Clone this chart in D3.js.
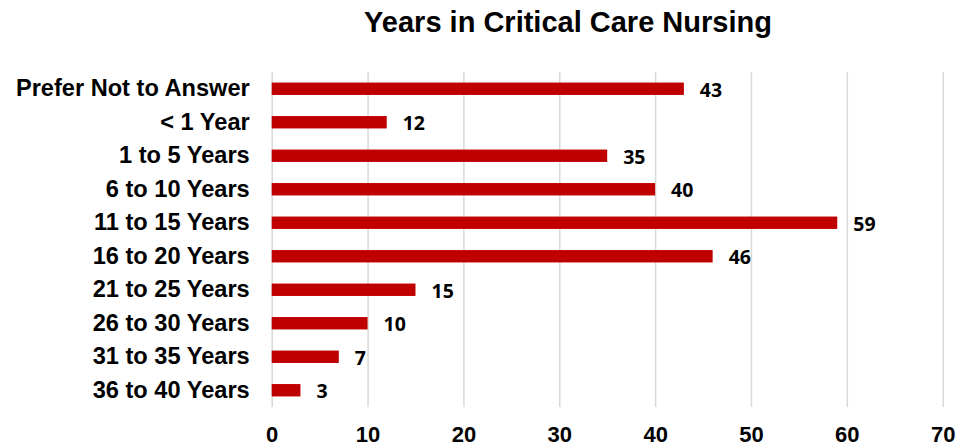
<!DOCTYPE html>
<html>
<head>
<meta charset="utf-8">
<script src="https://cdn.jsdelivr.net/npm/d3@7"></script>
<style>
  body { margin: 0; background: #fff; }
</style>
</head>
<body>
<div id="vis"></div>
<script>
// categories, top to bottom
const CATEGORIES = ["Prefer Not to Answer", "< 1 Year", "1 to 5 Years", "6 to 10 Years",
                    "11 to 15 Years", "16 to 20 Years", "21 to 25 Years", "26 to 30 Years",
                    "31 to 35 Years", "36 to 40 Years"];

// number of respondents per category
const COUNTS = [43, 12, 35, 40, 59, 46, 15, 10, 7, 3];

// x axis ticks
const X_TICKS = [0, 10, 20, 30, 40, 50, 60, 70];

const TITLE = "Years in Critical Care Nursing";

// frame
const FRAME_WIDTH = 957;
const FRAME_HEIGHT = 446;
const MARGINS = {left: 271.7, right: 14.3, top: 72, bottom: 39};
const VIS_WIDTH = FRAME_WIDTH - MARGINS.left - MARGINS.right;
const VIS_HEIGHT = FRAME_HEIGHT - MARGINS.top - MARGINS.bottom;

const data = CATEGORIES.map((c, i) => ({category: c, count: COUNTS[i]}));

const FRAME = d3.select("#vis")
                .append("svg")
                .attr("width", FRAME_WIDTH)
                .attr("height", FRAME_HEIGHT);

const X_SCALE = d3.scaleLinear()
                  .domain([0, 70])
                  .range([0, VIS_WIDTH]);

const Y_SCALE = d3.scaleBand()
                  .domain(CATEGORIES)
                  .range([0, VIS_HEIGHT])
                  .paddingInner(0.63)
                  .paddingOuter(0.315);

const G = FRAME.append("g")
               .attr("transform", "translate(" + MARGINS.left + "," + MARGINS.top + ")");

// gridlines + tick labels
const xAxis = G.append("g")
               .attr("transform", "translate(0," + VIS_HEIGHT + ")")
               .call(d3.axisBottom(X_SCALE).tickValues(X_TICKS).tickSize(-VIS_HEIGHT).tickPadding(19));
xAxis.select(".domain").remove();
xAxis.selectAll("line").attr("stroke", "#d9d9d9").attr("stroke-width", 1.5);
xAxis.selectAll("text")
     .attr("font-family", "Liberation Sans, Arial, sans-serif")
     .attr("font-weight", "bold")
     .attr("font-size", "22px")
     .attr("fill", "#000");

// category labels
const yAxis = G.append("g")
               .call(d3.axisLeft(Y_SCALE).tickSize(0).tickPadding(22));
yAxis.select(".domain").remove();
yAxis.selectAll("text")
     .attr("font-family", "Liberation Sans, Arial, sans-serif")
     .attr("font-weight", "bold")
     .attr("font-size", "23.6px")
     .attr("fill", "#000");

// bars
G.selectAll(".bar")
 .data(data)
 .enter()
 .append("rect")
   .attr("class", "bar")
   .attr("x", X_SCALE(0))
   .attr("y", (d) => Y_SCALE(d.category))
   .attr("width", (d) => X_SCALE(d.count) - X_SCALE(0))
   .attr("height", Y_SCALE.bandwidth())
   .attr("fill", "#c00000");

// value labels
G.selectAll(".value")
 .data(data)
 .enter()
 .append("text")
   .attr("class", "value")
   .attr("x", (d) => X_SCALE(d.count) + 16)
   .attr("y", (d) => Y_SCALE(d.category) + Y_SCALE.bandwidth() / 2)
   .attr("dy", "0.4em")
   .attr("font-family", "Open Sans, sans-serif")
   .attr("font-weight", "bold")
   .attr("font-size", "19.5px")
   .attr("fill", "#000")
   .text((d) => d.count);

// title
FRAME.append("text")
     .attr("x", 568)
     .attr("y", 32)
     .attr("text-anchor", "middle")
     .attr("font-family", "Liberation Sans, Arial, sans-serif")
     .attr("font-weight", "bold")
     .attr("font-size", "29px")
     .attr("fill", "#000")
     .text(TITLE);
</script>
</body>
</html>
